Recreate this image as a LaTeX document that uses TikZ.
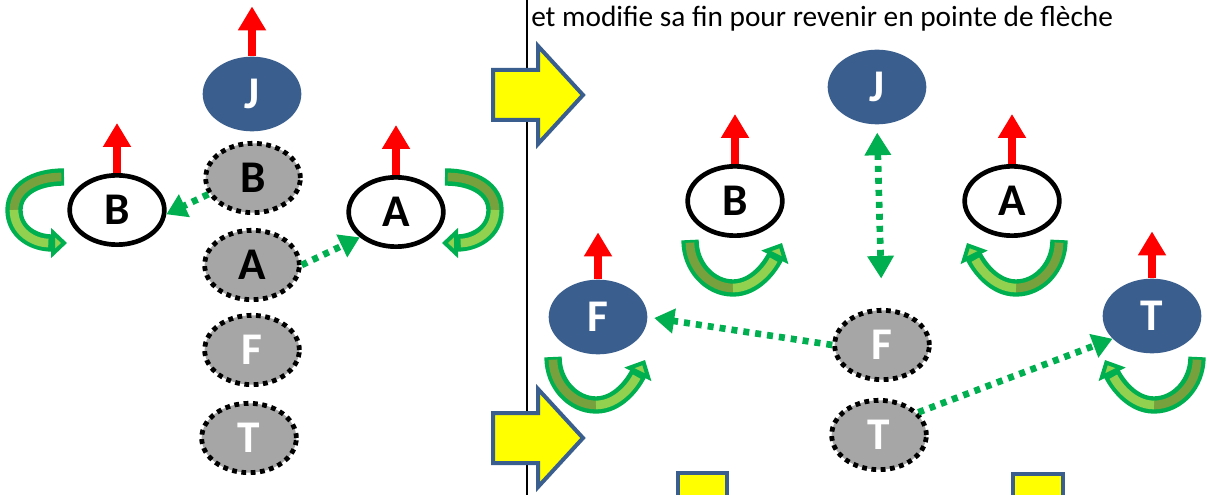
\documentclass[tikz,border=0pt]{standalone}
\usepackage{fontspec}
\setmainfont{Carlito}
\usetikzlibrary{shapes.geometric,arrows.meta}
\definecolor{nblue}{HTML}{3A5F8F}
\definecolor{ghostgray}{HTML}{A6A6A6}
\definecolor{swapgreen}{HTML}{00B050}
\definecolor{tolive}{HTML}{76A13C}
\definecolor{tlight}{HTML}{92D050}
\definecolor{fwdyellow}{HTML}{FFFF00}
\tikzset{
  lbl/.style={font=\fontsize{34}{34}\selectfont\bfseries},
  newnode/.style={ellipse, lbl, fill=nblue, text=white, minimum width=74pt, minimum height=56pt, inner sep=0pt},
  oldnode/.style={ellipse, lbl, draw=black, line width=3.5pt, fill=white, minimum width=71pt, minimum height=52pt, inner sep=0pt},
  ghost/.style={ellipse, lbl, draw=black, fill=ghostgray, line width=3.6pt, dash pattern=on 3.6pt off 3.4pt, minimum width=71pt, minimum height=52pt, inner sep=0pt},
  upmove/.style={draw=red, line width=6.5pt, -{Triangle[length=18pt,width=20pt]}},
  swaplink/.style={draw=swapgreen, line width=5pt, dash pattern=on 4.5pt off 4.5pt, -{Triangle[length=15pt,width=18pt]}},
  turnout/.style={draw=swapgreen, line width=13pt, -{Triangle[length=12pt,width=22pt,line width=3pt,fill=tlight]}},
  turnin/.style={line width=6.5pt},
  bigarrow/.style={draw=nblue, fill=fwdyellow, line width=3pt, line join=miter},
  stopbox/.style={draw=nblue, fill=fwdyellow, line width=3pt},
  sideturn/.pic={
    \draw[turnout] (0,-33) .. controls (-30,-33) and (-50,-20) .. (-50,0) .. controls (-50,22) and (-30,33) .. (3,33);
    \draw[turnin, draw=tolive, shorten <=2pt] (0,-33) .. controls (-30,-33) and (-50,-20) .. (-50,0);
    \draw[turnin, draw=tlight, shorten >=14pt] (-50,0) .. controls (-50,22) and (-30,33) .. (3,33);
  },
  uturn/.pic={
    \draw[turnout] (-45,0) .. controls (-45,27) and (-25,48) .. (-2,48) .. controls (20,48) and (35,27) .. (47,3);
    \draw[turnin, draw=tolive, shorten <=2pt] (-45,0) .. controls (-45,27) and (-25,48) .. (-2,48);
    \draw[turnin, draw=tlight, shorten >=14pt] (-2,48) .. controls (20,48) and (35,27) .. (47,3);
  },
  fwd/.pic={
    \draw[bigarrow] (-45,-25) -- (0,-25) -- (0,-49) -- (45,0) -- (0,49) -- (0,25) -- (-45,25) -- cycle;
  },
}
\begin{document}
\begin{tikzpicture}[x=0.75pt,y=-0.75pt]
  \useasboundingbox (0,0) rectangle (1207,495);
  \clip (0,0) rectangle (1207,495);
  \draw[line width=2.2pt] (527,0) -- (527,495);
  \node[anchor=base west, inner sep=0pt, font=\fontsize{22}{22}\selectfont] (note) at (531,27) {et modifie sa fin pour revenir en pointe de flèche};

  \node[newnode] (lJ) at (252,94) {J};
  \node[ghost] (gB) at (253,178) {B};
  \node[ghost] (gA) at (252,265) {A};
  \node[ghost, text=white] (gF) at (252,350) {F};
  \node[ghost, text=white] (gT) at (249,438) {T};
  \node[oldnode] (lB) at (117,210) {B};
  \node[oldnode] (lA) at (396,212) {A};
  \draw[upmove] (lJ.north) -- ++(0,-50);
  \draw[upmove] (lB.north) -- ++(0,-50);
  \draw[upmove] (lA.north) -- ++(0,-50);
  \draw[swaplink] (gB.200) -- (lB.355);
  \draw[swaplink] (gA.east) -- (lA.215);
  \pic at (64,210) {sideturn};
  \pic[xscale=-1] at (445,210) {sideturn};

  \pic at (538,95) {fwd};
  \pic at (538,438) {fwd};
  \draw[stopbox] (678,473) rectangle (727,520);
  \draw[stopbox] (1013,474) rectangle (1063,520);

  \node[newnode] (rJ) at (877,87) {J};
  \node[oldnode] (rB) at (735,201) {B};
  \node[oldnode] (rA) at (1012,201) {A};
  \node[newnode] (rF) at (598,317) {F};
  \node[newnode] (rT) at (1152,316) {T};
  \node[ghost, text=white] (hF) at (882,345) {F};
  \node[ghost, text=white] (hT) at (879,435) {T};
  \draw[upmove] (rB.north) -- ++(0,-50);
  \draw[upmove] (rA.north) -- ++(0,-50);
  \draw[upmove] (rF.north) -- ++(0,-47);
  \draw[upmove] (rT.north) -- ++(0,-47);
  \draw[swaplink, {Triangle[length=17pt,width=19pt]}-{Triangle[length=17pt,width=19pt]}, shorten <=6pt, shorten >=22pt] (rJ.south) -- (hF.north);
  \draw[swaplink, shorten >=5pt] (hF.west) -- (rF.east);
  \draw[swaplink] (hT.30) -- (rT.210);
  \pic at (735,240) {uturn};
  \pic[xscale=-1] at (1014,240) {uturn};
  \pic at (598,357) {uturn};
  \pic[xscale=-1] at (1152,357) {uturn};
\end{tikzpicture}
\end{document}
